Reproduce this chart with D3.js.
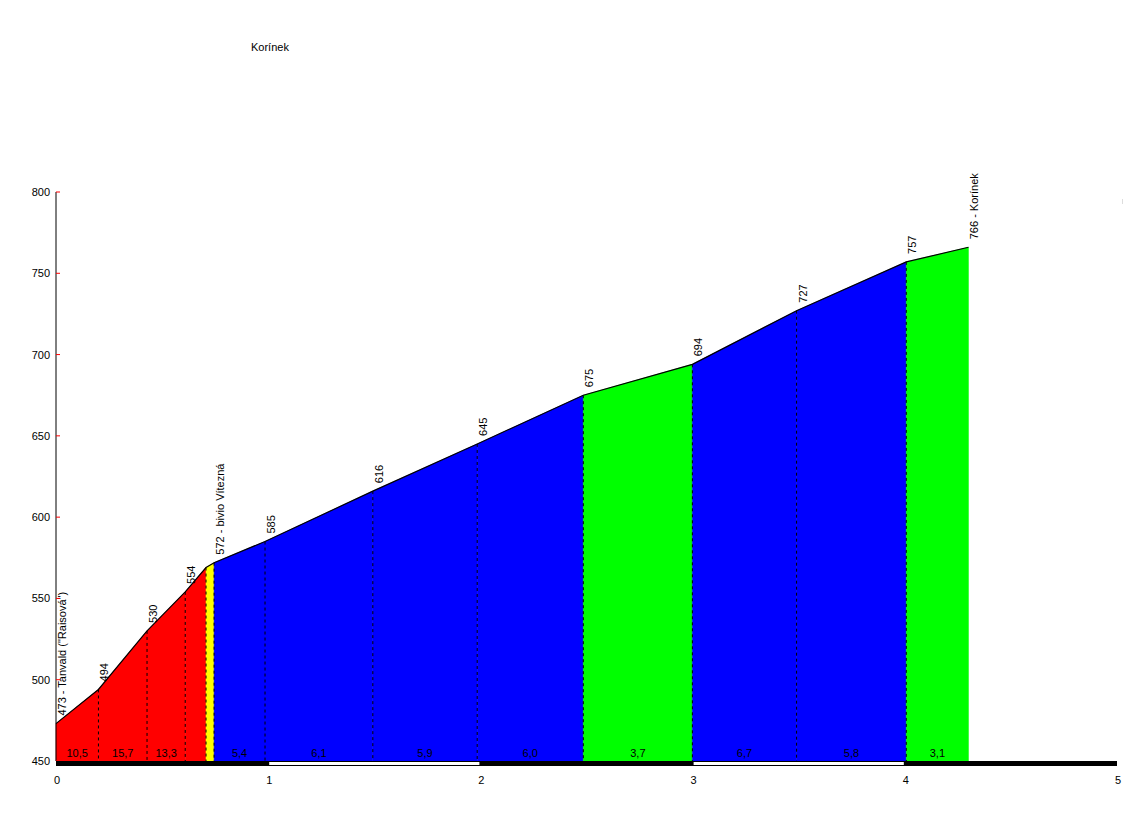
<!DOCTYPE html>
<html><head><meta charset="utf-8">
<script src="https://cdn.jsdelivr.net/npm/d3@7"></script>
<style>body{margin:0;background:#fff}svg{display:block}text{font-family:"Liberation Sans",Arial,sans-serif;font-size:11px;fill:#000}</style>
</head><body>
<script>
const title = "Korínek";
const dist = [0, 0.2, 0.429, 0.609, 0.707, 0.745, 0.985, 1.493, 1.985, 2.485, 2.999, 3.49, 4.007, 4.3];
const elev = [473, 494, 530, 554, 569, 572, 585, 616, 645, 675, 694, 727, 757, 766];
const pointLabels = ['473 - Tanvald ("Raisová")', '494', '530', '554', '', '572 - bivio Vítezná', '585', '616', '645', '675', '694', '727', '757', '766 - Korínek'];
const segColors = ['#ff0000','#ff0000','#ff0000','#ff0000','#ffff00','#0000ff','#0000ff','#0000ff','#0000ff','#00ff00','#0000ff','#0000ff','#00ff00'];
const segGrades = ['10,5','15,7','13,3','','','5,4','6,1','5,9','6,0','3,7','6,7','5,8','3,1'];
const yTicks = [450, 500, 550, 600, 650, 700, 750, 800];
const xTicks = [0, 1, 2, 3, 4, 5];

const W = 1142, H = 823;
const svg = d3.select("body").append("svg").attr("width", W).attr("height", H);
const x = d3.scaleLinear().domain([0, 5]).range([56, 1117]);
const y = d3.scaleLinear().domain([450, 800]).range([761, 192]);

svg.append("text").attr("x", 251).attr("y", 51).text(title);

// segments
const segs = d3.range(dist.length - 1).map(i => ({i, x0: dist[i], x1: dist[i+1], e0: elev[i], e1: elev[i+1], c: segColors[i], g: segGrades[i]}));
const area = d3.area().x(d => d[0]).y0(y(450)).y1(d => d[1]);
svg.append("g").selectAll("path").data(segs).join("path")
  .attr("d", s => area([[x(s.x0), y(s.e0)], [x(s.x1), y(s.e1)]]))
  .attr("fill", d => d.c).attr("stroke", d => d.c).attr("stroke-width", 0.5);

// dashed lines
svg.append("g").selectAll("line").data(dist.slice(1, -1).map((d, k) => ({d, e: elev[k+1]}))).join("line")
  .attr("x1", p => x(p.d)).attr("x2", p => x(p.d))
  .attr("y1", p => y(p.e)).attr("y2", y(450))
  .attr("stroke", "#000").attr("stroke-width", 1).attr("stroke-dasharray", "3,3");

// outline
svg.append("path").datum(dist.map((d, i) => [x(d), y(elev[i])]))
  .attr("d", d3.line()).attr("fill", "none").attr("stroke", "#000").attr("stroke-width", 1.2);

// grade labels
svg.append("g").selectAll("text").data(segs.filter(s => s.g)).join("text")
  .attr("x", s => (x(s.x0) + x(s.x1)) / 2).attr("y", 757)
  .attr("text-anchor", "middle").text(s => s.g);

// point labels
svg.append("g").selectAll("text").data(dist.map((d, i) => ({d, e: elev[i], t: pointLabels[i]})).filter(p => p.t)).join("text")
  .attr("transform", p => `translate(${x(p.d) + 10},${y(p.e) - 8}) rotate(-90)`)
  .text(p => p.t);

// y axis
svg.append("line").attr("x1", 56).attr("x2", 56).attr("y1", y(800)).attr("y2", y(450)).attr("stroke", "#000");
svg.append("g").selectAll("line").data(yTicks).join("line")
  .attr("x1", 56).attr("x2", 60).attr("y1", d => y(d)).attr("y2", d => y(d)).attr("stroke", "#ff0000");
svg.append("g").selectAll("text").data(yTicks).join("text")
  .attr("x", 50).attr("y", d => y(d) + 4).attr("text-anchor", "end").text(d => d);

// x bar
svg.append("rect").attr("x", x(0)).attr("y", 761).attr("width", x(5) - x(0)).attr("height", 5).attr("fill", "#000");
svg.append("g").selectAll("rect").data(xTicks.slice(0, -1).filter(d => d % 2 === 1)).join("rect")
  .attr("x", d => x(d) + 1).attr("y", 762).attr("width", d => x(d + 1) - x(d) - 2).attr("height", 3).attr("fill", "#fff");
svg.append("g").selectAll("text").data(xTicks).join("text")
  .attr("x", d => x(d) + 1).attr("y", 784).attr("text-anchor", "middle").text(d => d);

svg.append("line").attr("x1", 1122.5).attr("x2", 1122.5).attr("y1", 199).attr("y2", 204).attr("stroke", "#ddd");
</script>
</body></html>
